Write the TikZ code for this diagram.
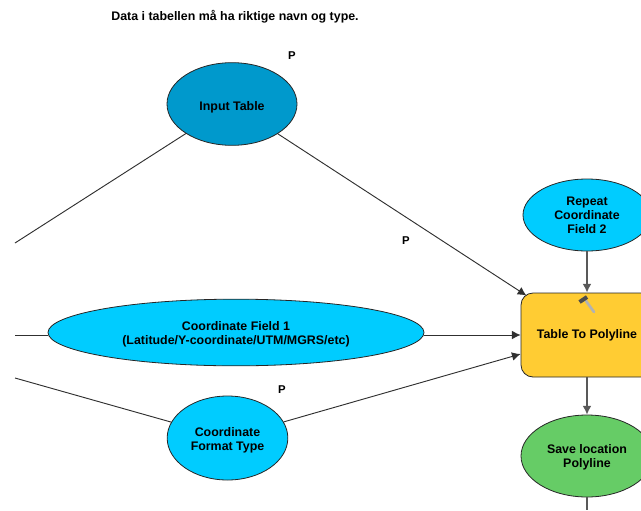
\documentclass[tikz,border=0pt]{standalone}
\usepackage{fontspec}
\setmainfont{Liberation Sans}
\usetikzlibrary{shapes.geometric,arrows.meta}
\definecolor{inblue}{HTML}{0099CC}
\definecolor{varblue}{HTML}{00CCFF}
\definecolor{tool}{HTML}{FFCC33}
\definecolor{out}{HTML}{66CC66}
\definecolor{lin}{HTML}{303030}
\newcommand\dnstrut[1]{\rule{0pt}{#1}}
\tikzset{
  txt/.style={font=\bfseries\fontsize{9.3}{10.4}\selectfont,align=center,text=black},
  oval/.style={ellipse,draw=black!85,line width=0.6pt,inner sep=0pt,txt},
  conn/.style={draw=lin,line width=0.7pt},
  arr/.style={conn,-{Latex[length=6.5pt,width=6.5pt]}},
  plabel/.style={txt,font=\bfseries\fontsize{8.5}{10}\selectfont}
}
\begin{document}
\begin{tikzpicture}[x=0.75pt,y=-0.75pt]
\useasboundingbox (0,0) rectangle (641,510);
\clip (0,0) rectangle (641,510);
\node[txt,anchor=center] (title) at (235,16.5) {Data i tabellen må ha riktige navn og type.};
\node[oval,fill=inblue,minimum width=97.5pt,minimum height=62pt] (input) at (232,104) {\dnstrut{11pt}Input Table};
\node[oval,fill=varblue,minimum width=282pt,minimum height=50pt] (field) at (236,332.5) {\dnstrut{10pt}Coordinate Field 1\\(Latitude/Y-coordinate/UTM/MGRS/etc)};
\node[oval,fill=varblue,minimum width=90.5pt,minimum height=63pt] (format) at (227.5,438) {\dnstrut{10pt}Coordinate\\Format Type};
\node[oval,fill=varblue,minimum width=96pt,minimum height=54pt] (repeat) at (587,215) {Repeat\\Coordinate\\Field 2};
\node[rectangle,rounded corners=9pt,draw=black!85,line width=0.6pt,fill=tool,minimum width=99pt,minimum height=63pt,inner sep=0pt,txt] (tbl) at (587,335) {Table To Polyline};
\node[oval,fill=out,minimum width=99pt,minimum height=61.5pt] (save) at (587,456) {\dnstrut{9pt}Save location\\Polyline};
\node[plabel] (p1) at (292,56) {P};
\node[plabel] (p2) at (406,241) {P};
\node[plabel] (p3) at (282,390) {P};
\coordinate (freea) at (15,243);
\coordinate (freeb) at (15,335);
\coordinate (freec) at (15,378);
\coordinate (freed) at (587,510);
\draw[arr,shorten >=-4pt] (input) -- (tbl);
\draw[arr] (field.east |- tbl) -- (tbl.west);
\draw[arr] (format) -- (tbl);
\draw[arr,line width=1pt,draw=lin!80] (repeat) -- (tbl);
\draw[arr,line width=1pt,draw=lin!80] (tbl) -- (save);
\draw[conn] (input) -- (freea);
\draw[conn] (freeb) -- (field.west |- freeb);
\draw[conn] (format) -- (freec);
\draw[conn,line width=1pt,draw=lin!80] (save) -- (freed);
% hammer tool icon
\draw[gray!60,line width=2pt,line cap=round] (586,301) -- (594,312);
\draw[black!70,line width=3pt] (579.5,302) -- (587,297);
\end{tikzpicture}
\end{document}
